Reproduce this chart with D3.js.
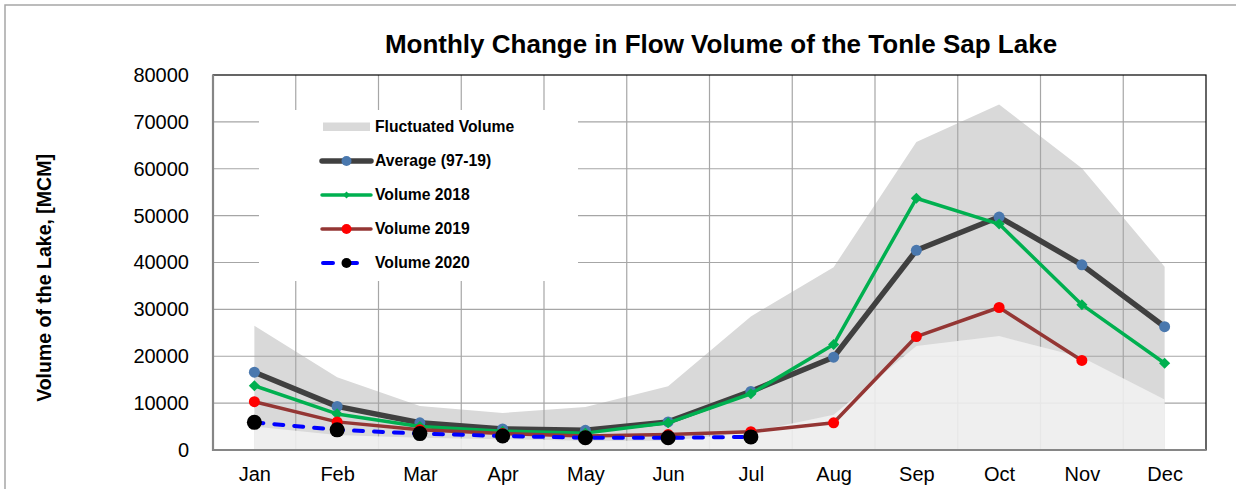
<!DOCTYPE html>
<html>
<head>
<meta charset="utf-8">
<style>
  body { margin: 0; background: #fff; }
  svg { display: block; font-family: "Liberation Sans", Arial, sans-serif; }
</style>
</head>
<body>
<svg width="1236" height="489"></svg>
<script src="https://d3js.org/d3.v7.min.js"></script>
<script>

// chart data (MCM)
var months = ["Jan", "Feb", "Mar", "Apr", "May", "Jun", "Jul", "Aug", "Sep", "Oct", "Nov", "Dec"];
var volMax  = [26500, 15500, 9400, 7900, 9200, 13600, 28500, 39000, 65700, 73700, 60100, 39100];
var volMin  = [5000, 3200, 2600, 2300, 2000, 2000, 3800, 7500, 22200, 24300, 19800, 10800];
var average = [16600, 9300, 5800, 4500, 4200, 6000, 12500, 19800, 42600, 49700, 39500, 26300];
var vol2018 = [13700, 7700, 5000, 4000, 3600, 5800, 12000, 22500, 53700, 48200, 31000, 18500];
var vol2019 = [10300, 6000, 4300, 3500, 3000, 3300, 3900, 5800, 24200, 30400, 19100];
var vol2020 = [5900, 4300, 3500, 3000, 2600, 2600, 2800];
var yTicks  = [0, 10000, 20000, 30000, 40000, 50000, 60000, 70000, 80000];

var svg = d3.select("svg");

var plot = {left: 213, right: 1206, top: 75, bottom: 450};

var x = d3.scalePoint()
    .domain(months)
    .range([plot.left, plot.right])
    .padding(0.5);

var y = d3.scaleLinear()
    .domain([0, 80000])
    .range([plot.bottom, plot.top]);

// outer chart frame
svg.append("rect")
    .attr("x", 5).attr("y", 5)
    .attr("width", 1300).attr("height", 600)
    .attr("fill", "#fff")
    .attr("stroke", "#a6a6a6")
    .attr("stroke-width", 1.5);

// title
svg.append("text")
    .attr("x", 721).attr("y", 53)
    .attr("text-anchor", "middle")
    .attr("font-size", 26)
    .attr("font-weight", "bold")
    .text("Monthly Change in Flow Volume of the Tonle Sap Lake");

// fluctuated volume band (max), behind the grid
var band = months.map(function(m, i) { return {m: m, lo: volMin[i], hi: volMax[i]}; });

svg.append("path")
    .datum(band)
    .attr("fill", "#d9d9d9")
    .attr("d", d3.area()
      .x(function(d) { return x(d.m); })
      .y0(y(0))
      .y1(function(d) { return y(d.hi); }));

// grid
var step = x.step();
var grid = svg.append("g").attr("stroke", "#a6a6a6").attr("stroke-width", 1.2);

grid.selectAll(".hg")
    .data(yTicks.slice(1, -1))
  .enter().append("line")
    .attr("x1", plot.left).attr("x2", plot.right)
    .attr("y1", function(d) { return y(d); })
    .attr("y2", function(d) { return y(d); });

grid.selectAll(".vg")
    .data(d3.range(1, months.length))
  .enter().append("line")
    .attr("x1", function(i) { return plot.left + i * step; })
    .attr("x2", function(i) { return plot.left + i * step; })
    .attr("y1", plot.top).attr("y2", plot.bottom);

// lower part of band (min), lighter, over the grid
svg.append("path")
    .datum(band)
    .attr("fill", "#f2f2f2")
    .attr("fill-opacity", 0.85)
    .attr("d", d3.area()
      .x(function(d) { return x(d.m); })
      .y0(y(0))
      .y1(function(d) { return y(d.lo); }));

// plot frame
svg.append("rect")
    .attr("x", plot.left).attr("y", plot.top)
    .attr("width", plot.right - plot.left)
    .attr("height", plot.bottom - plot.top)
    .attr("fill", "none")
    .attr("stroke", "#000")
    .attr("stroke-width", 1.2);

svg.append("path")
    .attr("d", "M" + plot.left + "," + plot.top + "V" + plot.bottom + "H" + plot.right)
    .attr("fill", "none")
    .attr("stroke", "#868686")
    .attr("stroke-width", 2.2);

// axes labels
var yAxis = d3.axisLeft(y).tickValues(yTicks).tickSize(0).tickPadding(24).tickFormat(d3.format("d"));
var gy = svg.append("g").attr("transform", "translate(" + plot.left + ",0)").call(yAxis);
gy.select(".domain").remove();
gy.selectAll("text").attr("font-size", 20).attr("fill", "#000").attr("font-family", "Liberation Sans, Arial, sans-serif");

var xAxis = d3.axisBottom(x).tickSize(0).tickPadding(17);
var gx = svg.append("g").attr("transform", "translate(0," + plot.bottom + ")").call(xAxis);
gx.select(".domain").remove();
gx.selectAll("text").attr("font-size", 20).attr("fill", "#000").attr("font-family", "Liberation Sans, Arial, sans-serif");

svg.append("text")
    .attr("transform", "translate(51,278) rotate(-90)")
    .attr("text-anchor", "middle")
    .attr("font-size", 19.5)
    .attr("font-weight", "bold")
    .text("Volume of the Lake, [MCM]");

// legend box
svg.append("rect")
    .attr("x", 259).attr("y", 110)
    .attr("width", 319).attr("height", 171)
    .attr("fill", "#fff");

// series
var series = [
  {name: "Average (97-19)", values: average, stroke: "#404040", width: 5.5, dash: null, marker: "circle", mfill: "#4a78ae", r: 5.5},
  {name: "Volume 2018", values: vol2018, stroke: "#00b050", width: 3.5, dash: null, marker: "diamond", mfill: "#00b050", r: 5.5},
  {name: "Volume 2019", values: vol2019, stroke: "#943634", width: 3.5, dash: null, marker: "circle", mfill: "#ff0000", r: 5.5},
  {name: "Volume 2020", values: vol2020, stroke: "#0000ff", width: 4, dash: "9,11", marker: "circle", mfill: "#000000", r: 7.5}
];

var line = d3.line()
    .x(function(d) { return x(d.m); })
    .y(function(d) { return y(d.v); });

function drawMarker(g, s, cx, cy) {
  if (s.marker == "diamond") {
    g.append("path")
        .attr("d", d3.symbol().type(d3.symbolDiamond2).size(s.r * s.r * 2.6)())
        .attr("transform", "translate(" + cx + "," + cy + ")")
        .attr("fill", s.mfill);
  } else {
    g.append("circle")
        .attr("cx", cx).attr("cy", cy).attr("r", s.r)
        .attr("fill", s.mfill);
  }
}

series.forEach(function(s) {
  var pts = s.values.map(function(v, i) { return {m: months[i], v: v}; });
  var g = svg.append("g");
  g.append("path")
      .datum(pts)
      .attr("fill", "none")
      .attr("stroke", s.stroke)
      .attr("stroke-width", s.width)
      .attr("stroke-linejoin", "round")
      .attr("stroke-linecap", s.dash ? "round" : "butt")
      .attr("stroke-dasharray", s.dash)
      .attr("d", line);
  pts.forEach(function(p) { drawMarker(g, s, x(p.m), y(p.v)); });
});

// legend entries
var leg = svg.append("g").attr("font-size", 15.7).attr("font-weight", "bold");

leg.append("rect")
    .attr("x", 323).attr("y", 122.5)
    .attr("width", 47).attr("height", 8.5)
    .attr("fill", "#d9d9d9");
leg.append("text")
    .attr("x", 375).attr("y", 127).attr("dy", "0.35em")
    .text("Fluctuated Volume");

series.forEach(function(s, i) {
  var ly = 161 + i * 34;
  leg.append("line")
      .attr("x1", s.dash ? 323 : 322).attr("x2", 371)
      .attr("y1", ly).attr("y2", ly)
      .attr("stroke", s.stroke)
      .attr("stroke-width", s.width)
      .attr("stroke-linecap", "round")
      .attr("stroke-dasharray", s.dash ? "10,14" : null);
  drawMarker(leg, {marker: s.marker, mfill: s.mfill, r: s.marker == "diamond" ? 3.5 : 5}, 346.5, ly);
  leg.append("text")
      .attr("x", 375).attr("y", ly).attr("dy", "0.35em")
      .text(s.name);
});

</script>
</body>
</html>
